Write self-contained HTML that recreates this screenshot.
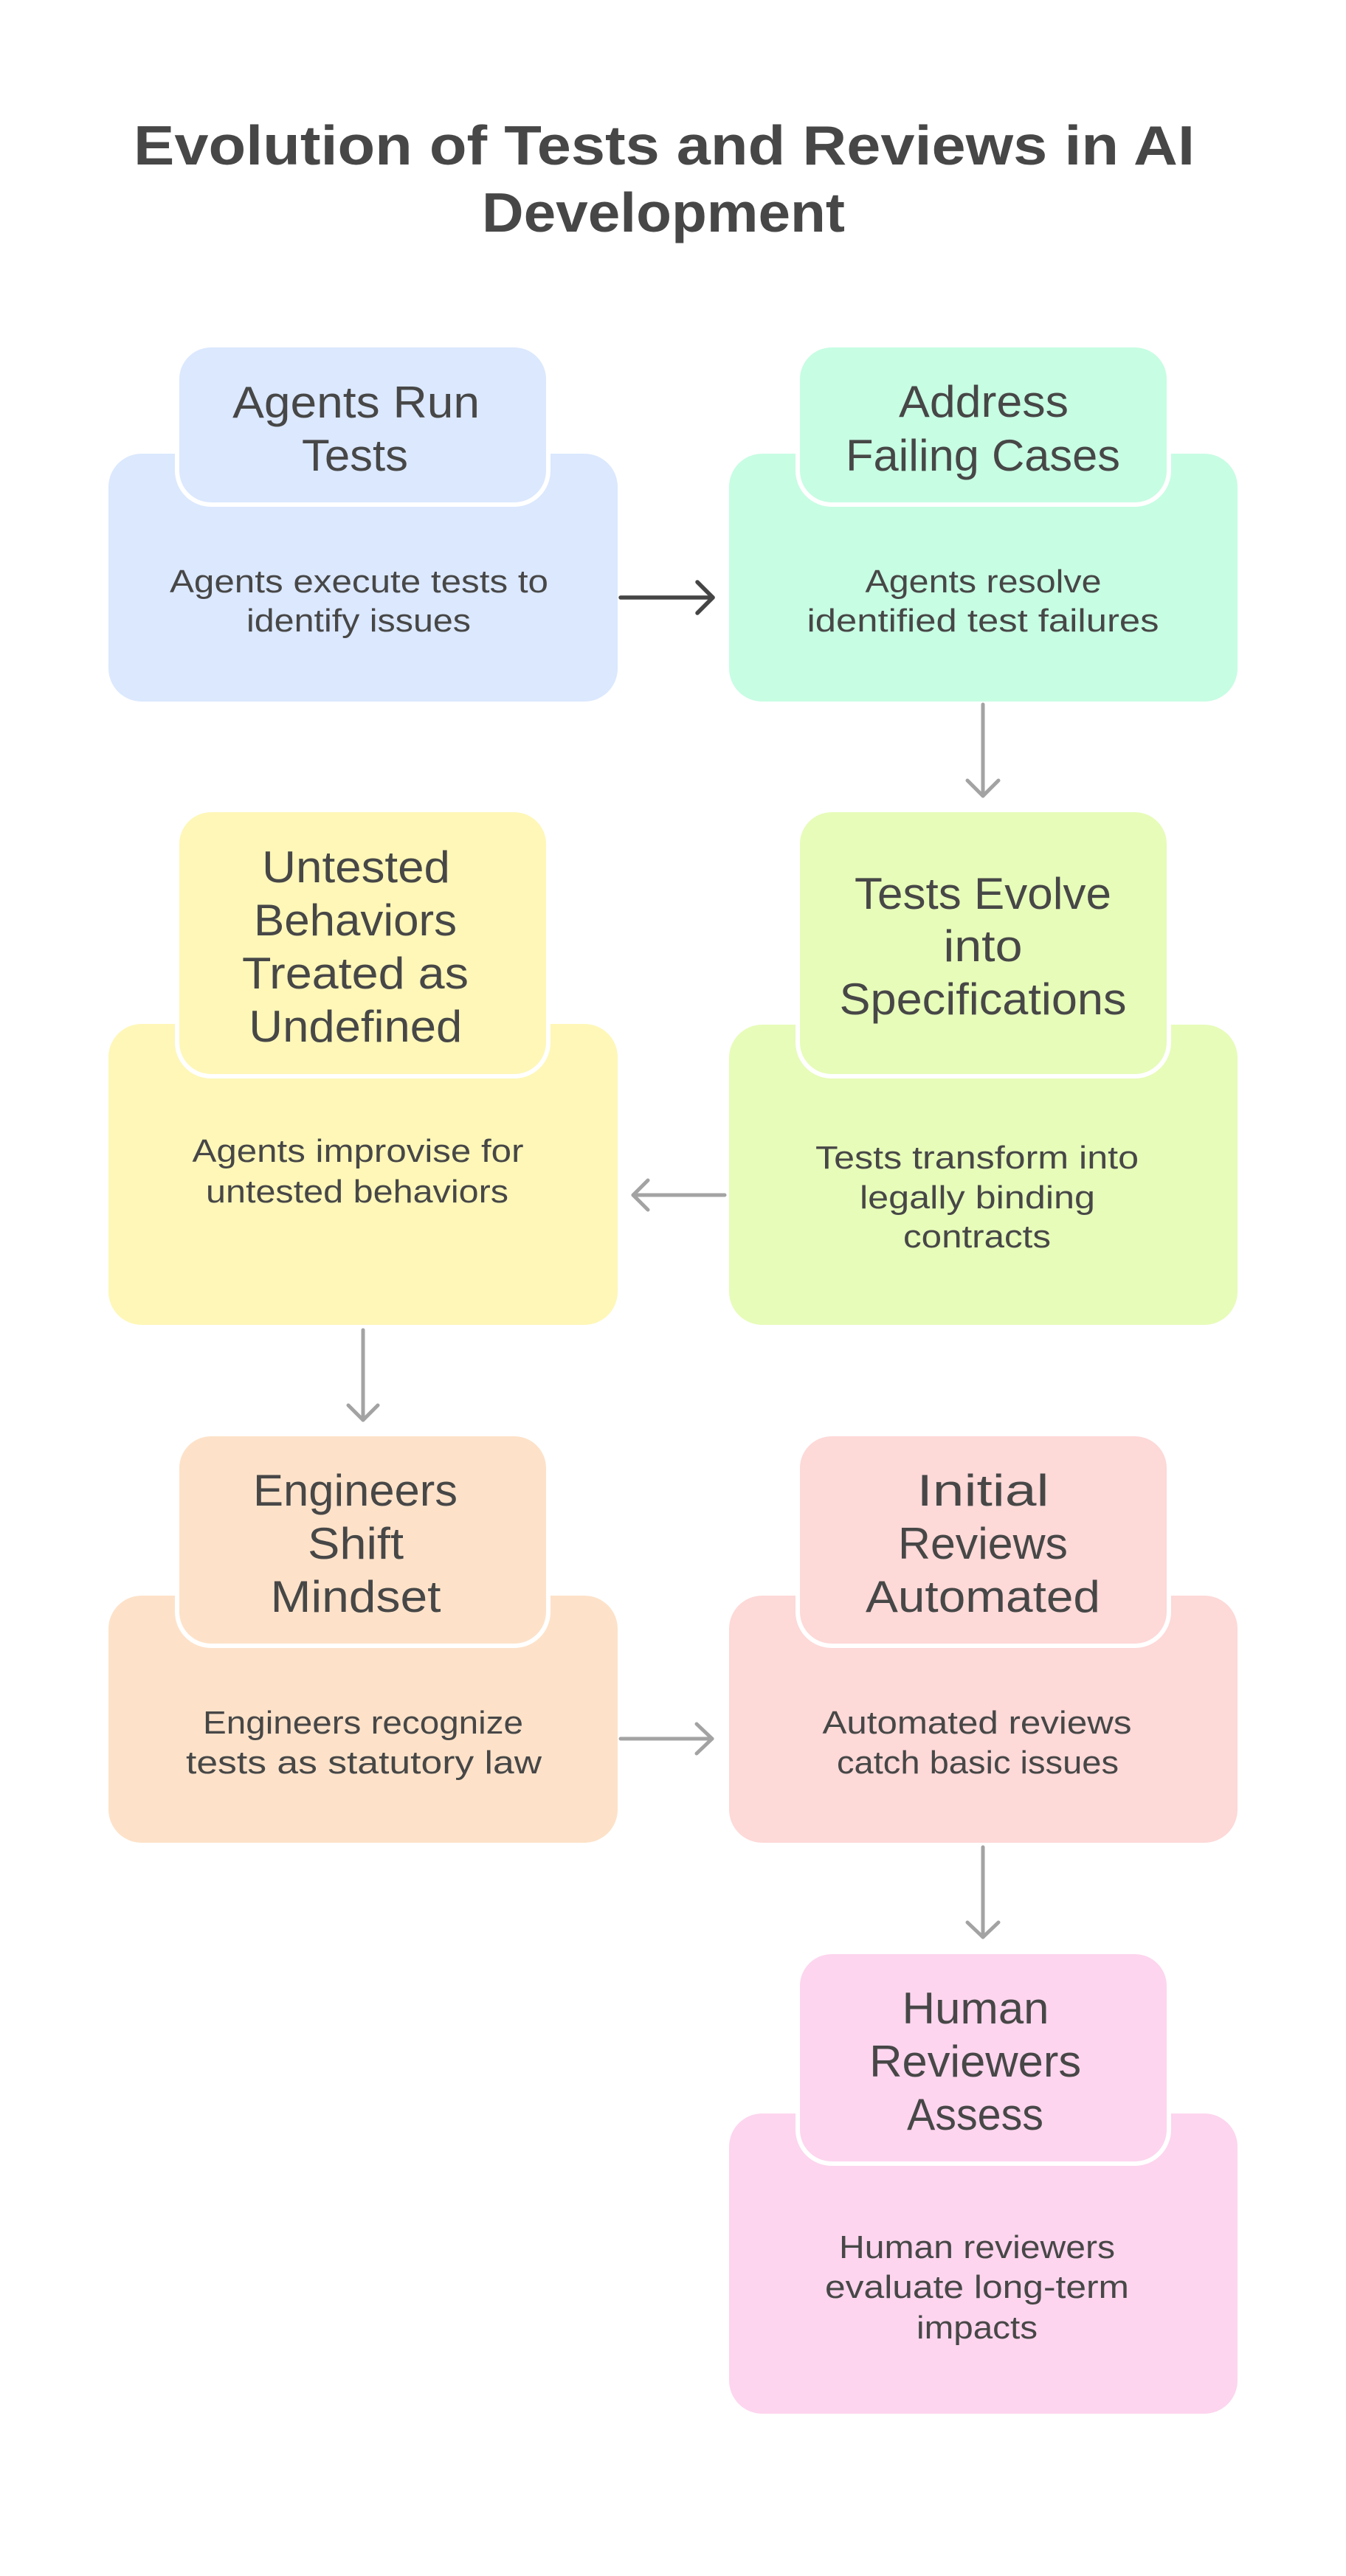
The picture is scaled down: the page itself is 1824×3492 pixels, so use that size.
<!DOCTYPE html>
<html>
<head>
<meta charset="utf-8">
<style>
  html, body { margin: 0; padding: 0; background: #ffffff; }
  svg { display: block; }
  .t { font-family: "Liberation Sans", "DejaVu Sans", sans-serif; fill: #474747; }
  .h { font-size: 75px; font-weight: bold; }
  .s { font-size: 60px; }
  .b { font-size: 44px; }
</style>
</head>
<body>
<svg width="1824" height="3492" viewBox="0 0 1824 3492" xmlns="http://www.w3.org/2000/svg">
  <rect x="0" y="0" width="1824" height="3492" fill="#ffffff"/>

  <!-- Title -->
  <text class="t h" x="900" y="223" text-anchor="middle" textLength="1438" lengthAdjust="spacingAndGlyphs">Evolution of Tests and Reviews in AI</text>
  <text class="t h" x="899" y="314" text-anchor="middle" textLength="492" lengthAdjust="spacingAndGlyphs">Development</text>

  <!-- Row 1 left: blue -->
  <rect x="147" y="615" width="690" height="336" rx="45" ry="45" fill="#dbe8fe"/>
  <rect x="237" y="465" width="509" height="222" rx="49" ry="49" fill="#ffffff"/>
  <rect x="243" y="471" width="497" height="210" rx="43" ry="43" fill="#dbe8fe"/>
  <text class="t s" x="482.6" y="566" text-anchor="middle" textLength="335" lengthAdjust="spacingAndGlyphs">Agents Run</text>
  <text class="t s" x="481" y="638" text-anchor="middle" textLength="144" lengthAdjust="spacingAndGlyphs">Tests</text>
  <text class="t b" x="486.5" y="803" text-anchor="middle" textLength="513" lengthAdjust="spacingAndGlyphs">Agents execute tests to</text>
  <text class="t b" x="486" y="856" text-anchor="middle" textLength="304" lengthAdjust="spacingAndGlyphs">identify issues</text>

  <!-- Row 1 right: mint -->
  <rect x="988" y="615" width="689" height="336" rx="45" ry="45" fill="#c7fde3"/>
  <rect x="1078" y="465" width="509" height="222" rx="49" ry="49" fill="#ffffff"/>
  <rect x="1084" y="471" width="497" height="210" rx="43" ry="43" fill="#c7fde3"/>
  <text class="t s" x="1333" y="565" text-anchor="middle" textLength="230" lengthAdjust="spacingAndGlyphs">Address</text>
  <text class="t s" x="1332" y="638" text-anchor="middle" textLength="372" lengthAdjust="spacingAndGlyphs">Failing Cases</text>
  <text class="t b" x="1332.5" y="803" text-anchor="middle" textLength="320" lengthAdjust="spacingAndGlyphs">Agents resolve</text>
  <text class="t b" x="1332" y="856" text-anchor="middle" textLength="477" lengthAdjust="spacingAndGlyphs">identified test failures</text>

  <!-- Row 2 left: yellow -->
  <rect x="147" y="1388" width="690" height="408" rx="45" ry="45" fill="#fef7b8"/>
  <rect x="237" y="1095" width="509" height="367" rx="49" ry="49" fill="#ffffff"/>
  <rect x="243" y="1101" width="497" height="355" rx="43" ry="43" fill="#fef7b8"/>
  <text class="t s" x="482.5" y="1196" text-anchor="middle" textLength="255" lengthAdjust="spacingAndGlyphs">Untested</text>
  <text class="t s" x="481.5" y="1268" text-anchor="middle" textLength="275" lengthAdjust="spacingAndGlyphs">Behaviors</text>
  <text class="t s" x="481.5" y="1340" text-anchor="middle" textLength="307" lengthAdjust="spacingAndGlyphs">Treated as</text>
  <text class="t s" x="481.8" y="1412" text-anchor="middle" textLength="289" lengthAdjust="spacingAndGlyphs">Undefined</text>
  <text class="t b" x="485" y="1575" text-anchor="middle" textLength="449" lengthAdjust="spacingAndGlyphs">Agents improvise for</text>
  <text class="t b" x="484" y="1630" text-anchor="middle" textLength="410" lengthAdjust="spacingAndGlyphs">untested behaviors</text>

  <!-- Row 2 right: lime -->
  <rect x="988" y="1389" width="689" height="407" rx="45" ry="45" fill="#e7fcb9"/>
  <rect x="1078" y="1095" width="509" height="367" rx="49" ry="49" fill="#ffffff"/>
  <rect x="1084" y="1101" width="497" height="355" rx="43" ry="43" fill="#e7fcb9"/>
  <text class="t s" x="1332" y="1232" text-anchor="middle" textLength="348" lengthAdjust="spacingAndGlyphs">Tests Evolve</text>
  <text class="t s" x="1332" y="1303" text-anchor="middle" textLength="107" lengthAdjust="spacingAndGlyphs">into</text>
  <text class="t s" x="1332" y="1375" text-anchor="middle" textLength="389" lengthAdjust="spacingAndGlyphs">Specifications</text>
  <text class="t b" x="1324" y="1584" text-anchor="middle" textLength="438" lengthAdjust="spacingAndGlyphs">Tests transform into</text>
  <text class="t b" x="1324.5" y="1638" text-anchor="middle" textLength="319" lengthAdjust="spacingAndGlyphs">legally binding</text>
  <text class="t b" x="1324" y="1691" text-anchor="middle" textLength="200" lengthAdjust="spacingAndGlyphs">contracts</text>

  <!-- Row 3 left: peach -->
  <rect x="147" y="2163" width="690" height="335" rx="45" ry="45" fill="#fde2c9"/>
  <rect x="237" y="1941" width="509" height="293" rx="49" ry="49" fill="#ffffff"/>
  <rect x="243" y="1947" width="497" height="281" rx="43" ry="43" fill="#fde2c9"/>
  <text class="t s" x="481.5" y="2041" text-anchor="middle" textLength="277" lengthAdjust="spacingAndGlyphs">Engineers</text>
  <text class="t s" x="482" y="2113" text-anchor="middle" textLength="130" lengthAdjust="spacingAndGlyphs">Shift</text>
  <text class="t s" x="482" y="2185" text-anchor="middle" textLength="231" lengthAdjust="spacingAndGlyphs">Mindset</text>
  <text class="t b" x="492" y="2350" text-anchor="middle" textLength="434" lengthAdjust="spacingAndGlyphs">Engineers recognize</text>
  <text class="t b" x="493" y="2404" text-anchor="middle" textLength="482" lengthAdjust="spacingAndGlyphs">tests as statutory law</text>

  <!-- Row 3 right: red -->
  <rect x="988" y="2163" width="689" height="335" rx="45" ry="45" fill="#fdd9d8"/>
  <rect x="1078" y="1941" width="509" height="293" rx="49" ry="49" fill="#ffffff"/>
  <rect x="1084" y="1947" width="497" height="281" rx="43" ry="43" fill="#fdd9d8"/>
  <text class="t s" x="1332" y="2041" text-anchor="middle" textLength="179" lengthAdjust="spacingAndGlyphs">Initial</text>
  <text class="t s" x="1332" y="2113" text-anchor="middle" textLength="230" lengthAdjust="spacingAndGlyphs">Reviews</text>
  <text class="t s" x="1332" y="2185" text-anchor="middle" textLength="318" lengthAdjust="spacingAndGlyphs">Automated</text>
  <text class="t b" x="1324" y="2350" text-anchor="middle" textLength="419" lengthAdjust="spacingAndGlyphs">Automated reviews</text>
  <text class="t b" x="1325" y="2404" text-anchor="middle" textLength="382" lengthAdjust="spacingAndGlyphs">catch basic issues</text>

  <!-- Row 4 right: pink -->
  <rect x="988" y="2865" width="689" height="407" rx="45" ry="45" fill="#fdd5ee"/>
  <rect x="1078" y="2643" width="509" height="293" rx="49" ry="49" fill="#ffffff"/>
  <rect x="1084" y="2649" width="497" height="281" rx="43" ry="43" fill="#fdd5ee"/>
  <text class="t s" x="1322" y="2743" text-anchor="middle" textLength="199" lengthAdjust="spacingAndGlyphs">Human</text>
  <text class="t s" x="1321.6" y="2815" text-anchor="middle" textLength="287" lengthAdjust="spacingAndGlyphs">Reviewers</text>
  <text class="t s" x="1321.5" y="2887" text-anchor="middle" textLength="185" lengthAdjust="spacingAndGlyphs">Assess</text>
  <text class="t b" x="1324" y="3061" text-anchor="middle" textLength="374" lengthAdjust="spacingAndGlyphs">Human reviewers</text>
  <text class="t b" x="1324" y="3115" text-anchor="middle" textLength="412" lengthAdjust="spacingAndGlyphs">evaluate long-term</text>
  <text class="t b" x="1324" y="3170" text-anchor="middle" textLength="164" lengthAdjust="spacingAndGlyphs">impacts</text>

  <!-- Connectors -->
  <g fill="none" stroke-linecap="round" stroke-linejoin="round">
    <!-- Row1: left -> right (dark) -->
    <g stroke="#454545" stroke-width="5.5">
      <line x1="841" y1="810" x2="966" y2="810"/>
      <polyline points="945,789 966,810 945,831"/>
    </g>
    <g stroke="#a3a3a3" stroke-width="5">
      <!-- Address -> Tests Evolve (down) -->
      <line x1="1332" y1="955" x2="1332" y2="1079"/>
      <polyline points="1311,1058 1332,1079 1353,1058"/>
      <!-- Tests Evolve -> Untested (left) -->
      <line x1="982" y1="1620" x2="858" y2="1620"/>
      <polyline points="878,1600 858,1620 878,1640"/>
      <!-- Untested -> Engineers (down) -->
      <line x1="492" y1="1803" x2="492" y2="1925"/>
      <polyline points="472,1905 492,1925 512,1905"/>
      <!-- Engineers -> Initial (right) -->
      <line x1="841" y1="2357" x2="965" y2="2357"/>
      <polyline points="944,2337 965,2357 944,2377"/>
      <!-- Initial -> Human (down) -->
      <line x1="1332" y1="2504" x2="1332" y2="2626"/>
      <polyline points="1311,2606 1332,2626 1353,2606"/>
    </g>
  </g>
</svg>
</body>
</html>
